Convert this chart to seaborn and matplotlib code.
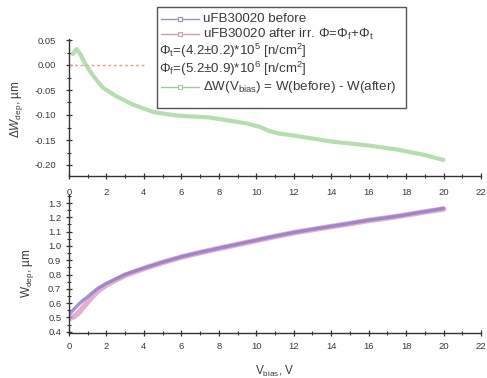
import pandas as pd
import matplotlib
matplotlib.use("Agg")
import matplotlib.pyplot as plt
from matplotlib.lines import Line2D
from matplotlib.patches import Rectangle
from matplotlib.ticker import MultipleLocator
import seaborn as sns

sns.set_theme(style="white")
plt.rcParams["font.family"] = ["Liberation Sans", "DejaVu Sans"]
plt.rcParams["mathtext.fontset"] = "custom"
plt.rcParams["mathtext.rm"] = "Liberation Sans"
plt.rcParams["mathtext.it"] = "Liberation Sans:italic"

# Change of depletion width, W(before) - W(after)
dw_bias = [0.2, 0.4, 0.6, 0.9, 1.3, 1.8, 2.5, 3.4, 4.5, 5.7, 7.5, 8.7,
           9.5, 10.2, 10.7, 11.2, 12.0, 14.0, 16.0, 17.5, 19.0, 20.0]
dw_um = [0.022, 0.032, 0.022, 0.000, -0.022, -0.045, -0.062, -0.079,
         -0.094, -0.101, -0.105, -0.112, -0.117, -0.124, -0.132, -0.137,
         -0.141, -0.153, -0.161, -0.169, -0.180, -0.190]

# zero reference
zero_bias = [0.0, 4.0]
zero_um = [0.0, 0.0]

# Depletion width vs bias
bias = [0.0, 0.25, 0.5, 0.75, 1.0, 1.5, 2.0, 3.0, 4.0, 5.0, 6.0, 7.0, 8.0,
        9.0, 10.0, 11.0, 12.0, 13.0, 14.0, 15.0, 16.0, 17.0, 18.0, 19.0, 20.0]
w_before = [0.520, 0.555, 0.590, 0.620, 0.645, 0.700, 0.738, 0.800, 0.845,
            0.886, 0.924, 0.955, 0.984, 1.012, 1.040, 1.068, 1.094, 1.116,
            1.137, 1.158, 1.180, 1.198, 1.218, 1.240, 1.262]
w_after = [0.490, 0.505, 0.530, 0.570, 0.610, 0.680, 0.728, 0.795, 0.842,
           0.884, 0.922, 0.953, 0.982, 1.010, 1.038, 1.066, 1.092, 1.114,
           1.135, 1.156, 1.178, 1.196, 1.216, 1.238, 1.258]

x_ticks = list(range(0, 23, 2))

fig = plt.figure(figsize=(4.87, 3.78), dpi=100)
W, H = 487, 378
xl, xr = 69, 481
ax1 = fig.add_axes([xl / W, 1 - 176 / H, (xr - xl) / W, (176 - 39) / H])
ax2 = fig.add_axes([xl / W, 1 - 333 / H, (xr - xl) / W, (333 - 195) / H])

green = "#a6d49f"
purple = "#8a7cc6"
pink = "#d98cc0"
salmon = "#e79a86"

df_dw = pd.DataFrame({"V": dw_bias, "dW": dw_um})
df_zero = pd.DataFrame({"V": zero_bias, "dW": zero_um})
sns.lineplot(data=df_zero, x="V", y="dW", ax=ax1, color=salmon, lw=1.0,
             linestyle=(0, (2, 2)))
sns.lineplot(data=df_dw, x="V", y="dW", ax=ax1, color=green, lw=3.0,
             alpha=0.8, estimator=None, sort=False)

df_w = pd.DataFrame({"V": bias, "before": w_before, "after": w_after})
sns.lineplot(data=df_w, x="V", y="after", ax=ax2, color=pink, lw=4.0,
             alpha=0.7, estimator=None)
sns.lineplot(data=df_w, x="V", y="before", ax=ax2, color=purple, lw=2.4,
             alpha=0.8, estimator=None)

text_c = "#3a3a3a"
for ax, xpad, ypad in ((ax1, 6.0, 7.0), (ax2, 4.0, 3.0)):
    ax.set_xlim(0, 22)
    ax.set_xticks(x_ticks)
    ax.xaxis.set_minor_locator(MultipleLocator(1))
    for s in ("top", "right"):
        ax.spines[s].set_visible(False)
    for s in ("left", "bottom"):
        ax.spines[s].set_color("#333333")
        ax.spines[s].set_linewidth(1.0)
    ax.tick_params(which="major", direction="inout", length=5, width=0.9,
                   color="#333333", labelsize=6.8, labelcolor=text_c,
                   bottom=True, left=True)
    ax.tick_params(axis="x", which="major", pad=xpad)
    ax.tick_params(axis="y", which="major", pad=ypad)
    ax.tick_params(which="minor", direction="inout", length=3, width=0.8,
                   color="#333333", bottom=True, left=True)
    ax.set_facecolor("white")

ax1.set_ylim(-0.222, 0.052)
ax1.set_yticks([0.05, 0.0, -0.05, -0.10, -0.15, -0.20])
ax1.set_yticklabels(["0.05", "0.00", "-0.05", "-0.10", "-0.15", "-0.20"])
ax1.yaxis.set_minor_locator(MultipleLocator(0.025))
ax1.set_xlabel("")
ax1.set_ylabel(r"$\Delta\mathit{W}_{\mathrm{dep}}$, µm", fontsize=8.5,
               color=text_c)
ax1.yaxis.set_label_coords((25 - xl) / (xr - xl), 0.49)

ax2.set_ylim(0.391, 1.356)
ax2.set_yticks([0.4, 0.5, 0.6, 0.7, 0.8, 0.9, 1.0, 1.1, 1.2, 1.3])
ax2.yaxis.set_minor_locator(MultipleLocator(0.05))
ax2.set_xlabel(r"V$_{\mathrm{bias}}$, V", fontsize=8.5, color=text_c,
               labelpad=9)
ax2.set_ylabel(r"W$_{\mathrm{dep}}$, µm", fontsize=8.5, color=text_c)
ax2.yaxis.set_label_coords((36 - xl) / (xr - xl), 0.43)

# legend box drawn in figure coordinates
x0, x1, y0, y1 = 157, 406, 7, 108
fig.patches.append(Rectangle((x0 / W, 1 - y1 / H), (x1 - x0) / W,
                             (y1 - y0) / H, transform=fig.transFigure,
                             facecolor="white", edgecolor="#555555",
                             lw=1.0, zorder=10))
rows = [
    (19, "#9a8fb8", "uFB30020 before"),
    (34, "#c7a0b8", r"uFB30020 after irr. Φ=Φ$_{\mathrm{f}}$+Φ$_{\mathrm{t}}$"),
    (51, None, r"Φ$_{\mathrm{t}}$=(4.2±0.2)*10$^{5}$ [n/cm$^{2}$]"),
    (69, None, r"Φ$_{\mathrm{f}}$=(5.2±0.9)*10$^{6}$ [n/cm$^{2}$]"),
    (87, "#a9c4a2", r"ΔW(V$_{\mathrm{bias}}$) = W(before) - W(after)"),
]
for yc, col, label in rows:
    yf = 1 - yc / H
    if col is None:
        tx = 159
    else:
        tx = 203
        fig.lines.append(Line2D([161 / W, 199 / W], [yf, yf],
                                transform=fig.transFigure, color=col,
                                lw=1.0, zorder=11))
        fig.lines.append(Line2D([180 / W], [yf], transform=fig.transFigure,
                                color=col, marker="s", markersize=3,
                                mfc="white", mew=0.8, zorder=12))
    fig.text(tx / W, yf, label, fontsize=9.6, color=text_c, va="center",
             ha="left", zorder=12)

fig.savefig("out.png", dpi=100)
